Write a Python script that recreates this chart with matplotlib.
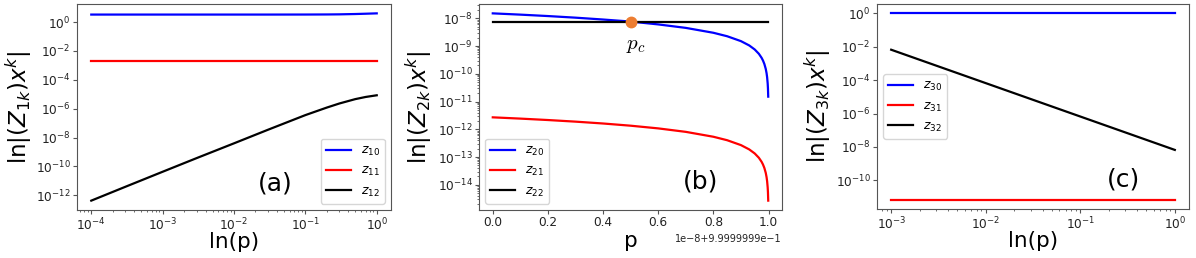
import numpy as np
import matplotlib
matplotlib.use("Agg")
import matplotlib.pyplot as plt
from matplotlib.ticker import LogLocator

# ---------------- data ----------------
# panel (a)
p_a = [1e-4, 3e-4, 1e-3, 3e-3, 1e-2, 3e-2, 1e-1, 0.2, 0.3, 0.5, 0.7, 1.0]
z10 = [3.3, 3.3, 3.3, 3.3, 3.3, 3.3, 3.32, 3.36, 3.42, 3.6, 3.78, 4.0]
z11 = [2.1e-3, 2.1e-3, 2.1e-3, 2.1e-3, 2.1e-3, 2.1e-3, 2.1e-3, 2.1e-3, 2.1e-3, 2.1e-3, 2.1e-3, 2.1e-3]
z12 = [4.3e-13, 3.9e-12, 4.3e-11, 3.8e-10, 4.0e-9, 3.5e-8, 3.6e-7, 1.2e-6, 2.3e-6, 4.6e-6, 6.5e-6, 8.5e-6]

# panel (b): p = 0.99999999 + 1e-8 * t
p_b_base = 0.99999999
p_b_step = 1e-8
t_b = [0.0, 0.1, 0.2, 0.3, 0.4, 0.5, 0.6, 0.7, 0.8, 0.85, 0.9, 0.93, 0.95, 0.965, 0.975,
       0.98, 0.985, 0.99, 0.993, 0.995, 0.997, 0.998, 0.999]
z20 = [1.5e-8, 1.35e-8, 1.2e-8, 1.05e-8, 9.0e-9, 7.6e-9, 6.0e-9, 4.5e-9, 3.0e-9, 2.25e-9, 1.5e-9,
       1.05e-9, 7.5e-10, 5.25e-10, 3.75e-10, 3.0e-10, 2.25e-10, 1.5e-10, 1.05e-10, 7.5e-11,
       4.5e-11, 3.0e-11, 1.5e-11]
z21 = [2.7e-12, 2.43e-12, 2.16e-12, 1.89e-12, 1.62e-12, 1.35e-12, 1.08e-12, 8.1e-13, 5.4e-13, 4.05e-13,
       2.7e-13, 1.89e-13, 1.35e-13, 9.45e-14, 6.75e-14, 5.4e-14, 4.05e-14, 2.7e-14, 1.89e-14, 1.35e-14,
       8.1e-15, 5.4e-15, 2.7e-15]
z22 = [7.6e-9] * len(t_b)
pc_t = 0.5
pc_val = 7.6e-9

# panel (c)
p_c = [1e-3, 1e-2, 1e-1, 1.0]
z30 = [1.0, 1.0, 1.0, 1.0]
z31 = [6.9e-12, 6.9e-12, 6.9e-12, 6.9e-12]
z32 = [6.6e-3, 6.6e-5, 6.6e-7, 6.6e-9]

# ---------------- figure ----------------
W, H = 1196, 258
fig = plt.figure(figsize=(W / 100, H / 100), dpi=100)

def frac(l, r, t, b):
    return [l / W, 1 - b / H, (r - l) / W, (b - t) / H]

ax_a = fig.add_axes(frac(77, 391, 4, 210))
ax_b = fig.add_axes(frac(479, 782, 4, 210))
ax_c = fig.add_axes(frac(877, 1189, 4, 209))

LW = 1.6
TICK_FS = 8.7
XLABEL_FS = 15.5
YLABEL_FS = 16.5
LEG_FS = 9
PANEL_FS = 18
spine_col = '#555555'

def style(ax, ylab_x, xlab_y):
    for s in ax.spines.values():
        s.set_color(spine_col)
    ax.tick_params(which='both', labelsize=TICK_FS, labelcolor='#222222', color=spine_col, pad=2)
    ax.tick_params(which='major', length=2.6)
    ax.tick_params(which='minor', length=1.5)
    ax.yaxis.set_label_coords(ylab_x, 0.5)
    ax.xaxis.set_label_coords(0.5, xlab_y)

# (a)
ax_a.plot(p_a, z10, color='blue', lw=LW, label=r'$z_{10}$')
ax_a.plot(p_a, z11, color='red', lw=LW, label=r'$z_{11}$')
ax_a.plot(p_a, z12, color='black', lw=LW, label=r'$z_{12}$')
ax_a.set_xscale('log'); ax_a.set_yscale('log')
ax_a.yaxis.set_major_locator(LogLocator(base=10, numticks=9))
ax_a.set_xlabel('ln(p)', fontsize=XLABEL_FS)
ax_a.set_ylabel(r'ln|$(Z_{1k})x^k$|', fontsize=YLABEL_FS)
ax_a.legend(loc='lower right', fontsize=LEG_FS)
ax_a.text(0.576, 0.13, '(a)', transform=ax_a.transAxes, fontsize=PANEL_FS, va='center', ha='left')
style(ax_a, -0.138, -0.105)

# (b)
p_b = p_b_base + p_b_step * np.array(t_b)
ax_b.plot(p_b, z20, color='blue', lw=LW, label=r'$z_{20}$')
ax_b.plot(p_b, z21, color='red', lw=LW, label=r'$z_{21}$')
ax_b.plot(p_b, z22, color='black', lw=LW, label=r'$z_{22}$')
ax_b.plot([p_b_base + p_b_step * pc_t], [pc_val], 'o', color='#ED7D31', ms=7.5, zorder=5)
ax_b.annotate(r'$p_c$', xy=(p_b_base + p_b_step * pc_t, pc_val), xytext=(4, -17),
              textcoords='offset points', ha='center', va='center', fontsize=15,
              math_fontfamily='cm')
ax_b.set_yscale('log')
ax_b.set_xlabel('p', fontsize=XLABEL_FS)
ax_b.set_ylabel(r'ln|$(Z_{2k})x^k$|', fontsize=YLABEL_FS)
ax_b.legend(loc='lower left', fontsize=LEG_FS)
ax_b.text(0.673, 0.136, '(b)', transform=ax_b.transAxes, fontsize=PANEL_FS, va='center', ha='left')
style(ax_b, -0.148, -0.1)
ax_b.xaxis.get_offset_text().set_fontsize(7)

# (c)
ax_c.plot(p_c, z30, color='blue', lw=LW, label=r'$z_{30}$')
ax_c.plot(p_c, z31, color='red', lw=LW, label=r'$z_{31}$')
ax_c.plot(p_c, z32, color='black', lw=LW, label=r'$z_{32}$')
ax_c.set_xscale('log'); ax_c.set_yscale('log')
ax_c.yaxis.set_major_locator(LogLocator(base=10, numticks=9))
ax_c.set_xlabel('ln(p)', fontsize=XLABEL_FS)
ax_c.set_ylabel(r'ln|$(Z_{3k})x^k$|', fontsize=YLABEL_FS)
ax_c.legend(loc='center left', fontsize=LEG_FS)
ax_c.text(0.737, 0.145, '(c)', transform=ax_c.transAxes, fontsize=PANEL_FS, va='center', ha='left')
style(ax_c, -0.14, -0.105)

fig.savefig('out.png', dpi=100)
